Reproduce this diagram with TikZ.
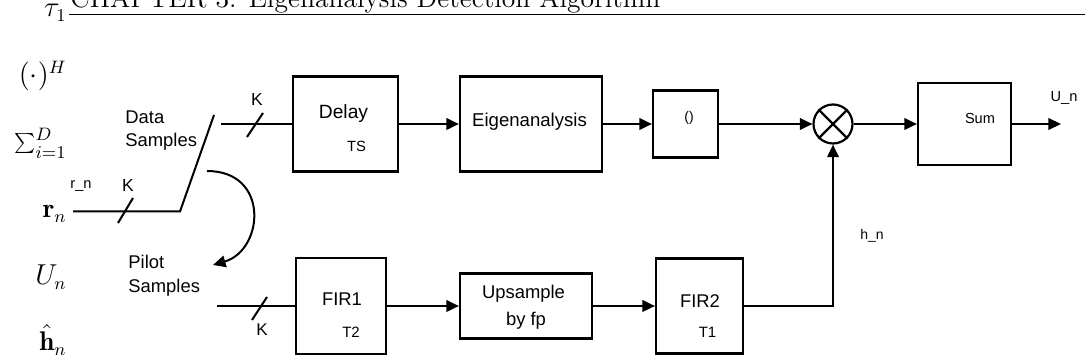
\documentclass[tikz,border=0pt]{standalone}
\usepackage{fontspec}
\newfontfamily\arial{Liberation Sans}
\usetikzlibrary{arrows.meta}
\newcommand\sfsize[1]{\arial\fontsize{#1}{#1}\selectfont}
\begin{document}
\begin{tikzpicture}[x=0.5pt,y=-0.5pt,
  wire/.style={line width=1pt},
  arr/.style={wire,-{Triangle[length=6.3pt,width=5.8pt]}},
  blk/.style 2 args={draw,line width=1.1pt,inner sep=0pt,minimum width=#1,minimum height=#2},
  lbl/.style={inner sep=0pt,font=\sfsize{#1}},
  mlbl/.style={inner sep=0pt,anchor=base east,font=\fontsize{13.5}{16}\selectfont},
  tick/.style={line width=1pt}]
\useasboundingbox (0,0) rectangle (1085,362);
\begin{scope}
\clip (0,0) rectangle (1085,362);

% running head
\node[inner sep=0pt,anchor=base west,font=\fontsize{13.8}{16}\selectfont] (head) at (70,7.5) {CHAPTER 3. Eigenanalysis Detection Algorithm};
\draw[line width=0.7pt] (69,14.5) -- (1085,14.5);

% margin symbols
\node[mlbl] (mtau) at (67,17) {$\tau_1$};
\node[mlbl] (mherm) at (67,84) {$(\cdot)^H$};
\node[mlbl] (msum) at (67,151) {$\sum_{i=1}^{D}$};
\node[mlbl] (mr) at (67,218) {$\mathbf{r}_n$};
\node[mlbl] (mU) at (67,285) {$U_n$};
\node[mlbl] (mh) at (67,351) {$\hat{\mathbf{h}}_n$};

% processing blocks
\node[blk={52.5pt}{47.5pt}] (delay) at (345.5,124) {};
\node[blk={71pt}{47.5pt}] (eigen) at (531,124) {};
\node[blk={32.5pt}{33.5pt}] (paren) at (685.5,124) {};
\node[draw,line width=1.1pt,circle,inner sep=0pt,minimum size=19.5pt] (mult) at (833,124) {};
\draw[line width=1.1pt] (mult.north east) -- (mult.south west) (mult.north west) -- (mult.south east);
\node[blk={46.5pt}{41pt}] (sum) at (964.5,124) {};
\node[blk={45pt}{48pt}] (fir1) at (341,306) {};
\node[blk={66pt}{32.5pt}] (ups) at (526,306) {};
\node[blk={43.5pt}{47.5pt}] (fir2) at (699.5,306) {};

% block texts
\node[lbl=9.6] (tdelay) at (343.5,113.5) {Delay};
\node[lbl=7.4] (tts) at (356.5,146) {TS};
\node[lbl=9.3] (teig) at (529.5,121.5) {Eigenanalysis};
\node[lbl=7] (tparen) at (689,118) {()};
\node[lbl=7.3] (tsum) at (980,118) {Sum};
\node[lbl=9.2] (tfir1) at (342,299) {FIR1};
\node[lbl=7.5] (tt2) at (351,332.5) {T2};
\node[lbl=9.2] (tups) at (523.5,293.5) {Upsample};
\node[lbl=9.2] (tby) at (526,320.5) {by fp};
\node[lbl=9.2] (tfir2) at (700,301) {FIR2};
\node[lbl=7.5] (tt1) at (707.5,332.5) {T1};

% signal labels
\node[lbl=7.3] (tun) at (1064,98) {U\_n};
\node[lbl=7] (thn) at (872,236) {h\_n};
\node[lbl=7.3] (trn) at (81,186) {r\_n};
\node[lbl=9.2,anchor=west] (tdata) at (125,117) {Data};
\node[lbl=9.2,anchor=west] (tsamp1) at (125,142) {Samples};
\node[lbl=9.2,anchor=west] (tpilot) at (128,262) {Pilot};
\node[lbl=9.2,anchor=west] (tsamp2) at (128,288) {Samples};
\node[lbl=8.7] (ka) at (257,100) {K};
\node[lbl=8.7] (kb) at (128,186) {K};
\node[lbl=8.5] (kc) at (262,330) {K};

% input switch
\coordinate (rin) at (73,211.5);
\coordinate (swbot) at (180,211.5);
\coordinate (swtop) at (214,115);
\coordinate (datain) at (221,124);
\coordinate (pilotin) at (217,306);
\draw[wire] (rin) -- (swbot) -- (swtop);
\draw[tick] (118,223) -- (133,198);
\coordinate (curvea) at (207,171);
\coordinate (curveb) at (213,265);
\draw[arr] (curvea) .. controls (270,171) and (264,250) .. (curveb);

% upper branch
\draw[wire] (datain) -- (delay.west);
\draw[tick] (247,137) -- (263,113);
\draw[arr] (delay.east) -- (eigen.west);
\draw[arr] (eigen.east) -- (paren.west);
\draw[arr] (paren.east) -- (mult.west);
\draw[arr] (mult.east) -- (sum.west);
\coordinate (out) at (1061,124);
\draw[arr] (sum.east) -- (out);

% pilot branch
\draw[wire] (pilotin) -- (fir1.west);
\draw[tick] (252,320) -- (267,297);
\draw[arr] (fir1.east) -- (ups.west);
\draw[arr] (ups.east) -- (fir2.west);
\draw[arr] (fir2.east) -| (mult.south);
\end{scope}
\end{tikzpicture}
\end{document}
